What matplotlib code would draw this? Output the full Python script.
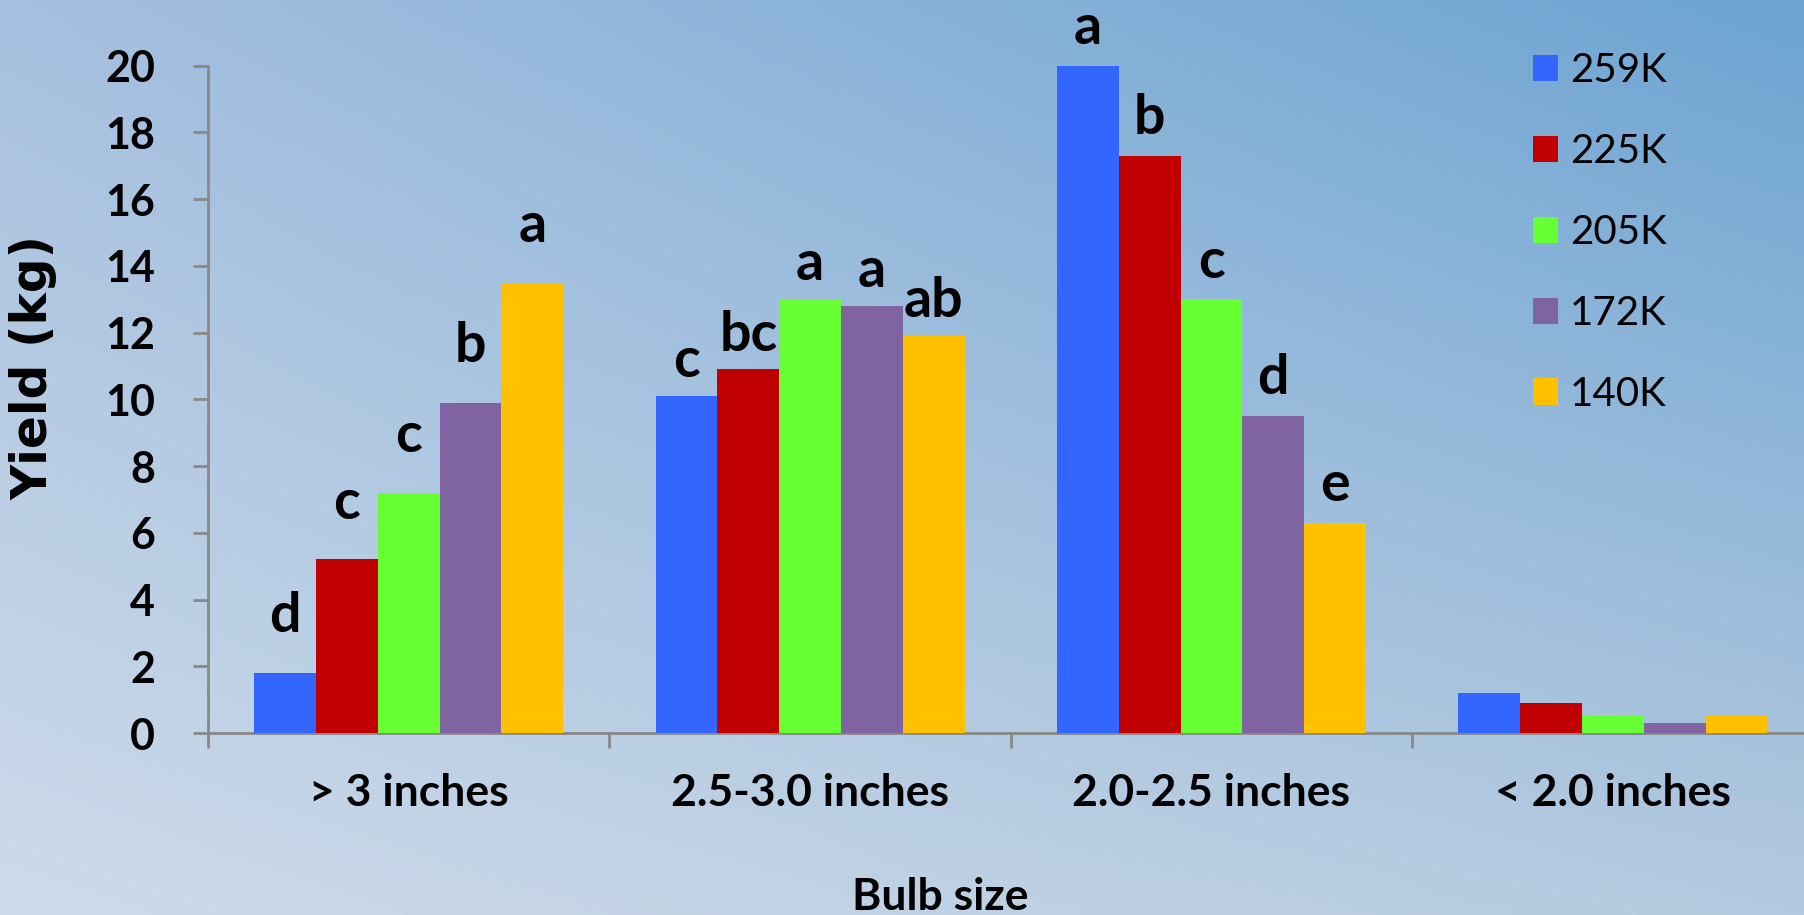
import numpy as np
import matplotlib
matplotlib.use('Agg')
import matplotlib.pyplot as plt

# Datos
categorias = ['> 3 inches', '2.5-3.0 inches', '2.0-2.5 inches', '< 2.0 inches']
series = ['259K', '225K', '205K', '172K', '140K']
colores = ['#3366ff', '#c00000', '#66ff33', '#8064a2', '#ffc000']

y_259 = [1.8, 10.1, 20.0, 1.2]
y_225 = [5.2, 10.9, 17.3, 0.9]
y_205 = [7.2, 13.0, 13.0, 0.5]
y_172 = [9.9, 12.8, 9.5, 0.3]
y_140 = [13.5, 11.9, 6.3, 0.5]
valores = [y_259, y_225, y_205, y_172, y_140]

# letras de significancia (por serie, por categoria)
letras = [['d', 'c', 'a', ''],
          ['c', 'bc', 'b', ''],
          ['c', 'a', 'c', ''],
          ['b', 'a', 'd', ''],
          ['a', 'ab', 'e', '']]
sep_letra = [41, 25, 27, 0]  # separacion en puntos, por categoria

fig = plt.figure(figsize=(18.04, 9.15), dpi=100)

# fondo degradado (cielo)
bg = fig.add_axes([0, 0, 1, 1], zorder=-10)
esq = np.array([[[0xa6, 0xc0, 0xdf], [0x6c, 0xa4, 0xd2]],
                [[0xcd, 0xdb, 0xea], [0xb4, 0xc9, 0xdf]]]) / 255.0
u = np.linspace(0, 1, 200)[None, :, None]
v = np.linspace(0, 1, 100)[:, None, None]
img = (esq[0, 0] * (1 - u) * (1 - v) + esq[0, 1] * u * (1 - v)
       + esq[1, 0] * (1 - u) * v + esq[1, 1] * u * v)
bg.imshow(img, aspect='auto', extent=[0, 1, 0, 1], interpolation='bilinear')
bg.axis('off')

ax = fig.add_axes([0.1153, 0.1989, 0.890, 0.7294])
ax.set_facecolor('none')

x = np.arange(len(categorias)) + 0.5
ancho = 0.154
for i, (s, vals, c) in enumerate(zip(series, valores, colores)):
    pos = x + (i - 2) * ancho
    ax.bar(pos, vals, width=ancho, color=c, label=s, zorder=3)
    for j in range(len(categorias)):
        if letras[i][j]:
            ax.annotate(letras[i][j], (pos[j], vals[j]), xytext=(0, sep_letra[j]),
                        textcoords='offset points', ha='center', va='center',
                        fontsize=40, fontweight='bold', family='Lato', color='black')

ax.set_xlim(0, 4)
ax.set_ylim(0, 20)
ax.set_yticks(np.arange(0, 21, 2))
ax.set_xticks([0, 1, 2, 3, 4])
ax.set_xticklabels([])
ax.set_xticks(x, minor=True)
ax.set_xticklabels(categorias, minor=True)

for lado in ['top', 'right']:
    ax.spines[lado].set_visible(False)
for lado in ['left', 'bottom']:
    ax.spines[lado].set_color('#888888')
    ax.spines[lado].set_linewidth(2)

ax.tick_params(axis='y', direction='out', length=11, width=2, color='#888888', pad=27,
               labelsize=31)
ax.tick_params(axis='x', which='major', direction='out', length=11, width=2, color='#888888')
ax.tick_params(axis='x', which='minor', length=0, pad=29, labelsize=32)
for t in ax.get_yticklabels() + ax.get_xticklabels(minor=True):
    t.set_fontfamily('Lato')
    t.set_fontweight('bold')

ax.set_ylabel('Yield (kg)', fontsize=35, fontweight='bold', family='DejaVu Sans')
ax.yaxis.set_label_coords(-0.094, 0.547)
ax.set_xlabel('Bulb size', fontsize=32, fontweight='bold', family='Lato')
ax.xaxis.set_label_coords(0.456, -0.216)

leg = ax.legend(loc='upper left', bbox_to_anchor=(1517 / 1804, 1 - 36 / 915),
                bbox_transform=fig.transFigure, frameon=False,
                prop={'family': 'Lato', 'size': 29},
                handlelength=0.62, handleheight=0.62, handletextpad=0.3,
                labelspacing=1.09, borderaxespad=0)

fig.savefig('out.png', dpi=100)
